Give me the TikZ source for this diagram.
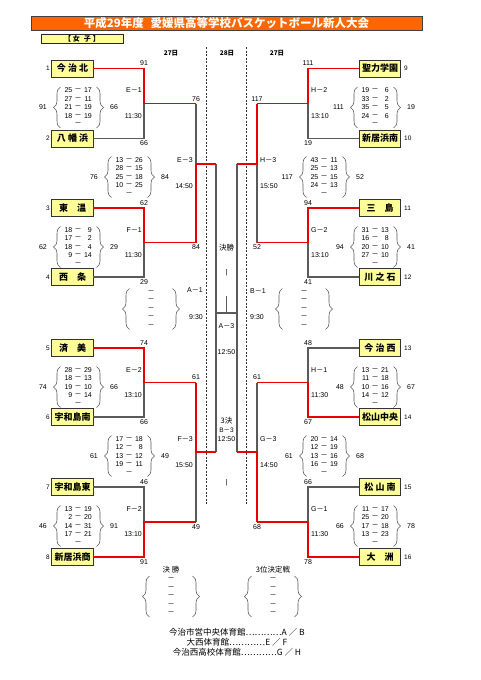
\documentclass[tikz,border=0pt]{standalone}
\usepackage{fontspec}
\setmainfont{Liberation Sans}
\newfontfamily\jp{Noto Sans CJK JP}
\usetikzlibrary{decorations.pathreplacing}
\definecolor{ttl}{RGB}{255,102,0}
\definecolor{ybox}{RGB}{255,255,153}
\definecolor{wline}{RGB}{235,0,0}
\definecolor{lline}{RGB}{90,90,90}
\newcommand\dd{{\jp －}}
\newcommand\scoreblk[6]{%
  \foreach \sa/\sb [count=\si from 0] in {#4}{%
    \node[num,anchor=east] (#1a\si) at ({#2-5.5},{#3+\si*8.5}) {\sa};
    \node[num] (#1d\si) at (#2,{#3+\si*8.5}) {\dd};
    \node[num,anchor=east] (#1b\si) at ({#2+14},{#3+\si*8.5}) {\sb};
  }%
  \node[num] (#1d4) at (#2,{#3+34}) {\dd};
  \draw[brc] ({#2-17.5},{#3+37.5}) -- ({#2-17.5},{#3-3.5});
  \draw[brc] ({#2+18.5},{#3-3.5}) -- ({#2+18.5},{#3+37.5});
  \node[num,anchor=east] (#1L) at ({#2-31},{#3+17}) {#5};
  \node[num,anchor=west] (#1R) at ({#2+32},{#3+17}) {#6};
}
\newcommand\dashblk[3]{%
  \foreach \si in {0,...,4}{\node[num] (#1d\si) at (#2,{#3+\si*8.5}) {\dd};}%
  \draw[brc] ({#2-21.5},{#3+37.5}) -- ({#2-21.5},{#3-3.5});
  \draw[brc] ({#2+21.5},{#3-3.5}) -- ({#2+21.5},{#3+37.5});
}
\begin{document}
\begin{tikzpicture}[x=1pt,y=-1pt,
  num/.style={inner sep=0pt,font=\fontsize{7}{8}\selectfont},
  seednum/.style={inner sep=0pt,font=\fontsize{6.5}{7}\selectfont},
  team/.style={draw=black!80,line width=0.8pt,fill=ybox,minimum width=41.5pt,minimum height=17pt,inner sep=0pt,outer sep=0pt,font=\jp\bfseries\fontsize{9}{9}\selectfont},
  win/.style={draw=wline,line width=1.9pt},
  lose/.style={draw=lline,line width=1.1pt},
  brc/.style={draw=black!65,line width=0.6pt,decorate,decoration={brace,amplitude=7pt}},
  dline/.style={draw=black!80,line width=0.6pt,dash pattern=on 2pt off 1.5pt},
  jtxt/.style={inner sep=0pt,font=\jp\fontsize{7.5}{8}\selectfont},
  foot/.style={inner sep=0pt,font=\jp\fontsize{8.5}{9}\selectfont},
  hdr/.style={inner sep=0pt,font=\jp\bfseries\fontsize{6.5}{7}\selectfont},
]
\useasboundingbox (0,0) rectangle (481,680);
\fill[white] (0,0) rectangle (481,680);

% title and header
\node[draw=black!75,line width=0.8pt,fill=ttl,minimum width=391pt,minimum height=14pt,inner sep=0pt,text=white,font=\jp\bfseries\fontsize{11.5}{12}\selectfont] (title) at (226.5,23) {平成29年度\hspace{0.6em}愛媛県高等学校バスケットボール新人大会};
\node[draw=black!85,line width=0.8pt,fill=ybox,minimum width=82pt,minimum height=9pt,inner sep=0pt,font=\jp\bfseries\fontsize{7}{7}\selectfont] (girls) at (82,38.5) {【\hspace{2pt}女\hspace{4pt}子\hspace{2pt}】};
\node[hdr] (d27a) at (171,53) {27日};
\node[hdr] (d28) at (227,53) {28日};
\node[hdr] (d27b) at (277,53) {27日};

% dashed day separators
\coordinate (dl1t) at (206.5,47); \coordinate (dl1b) at (206.5,504);
\coordinate (dl2t) at (246.5,47); \coordinate (dl2b) at (246.5,504);
\draw[dline] (dl1t) -- (dl1b);
\draw[dline] (dl2t) -- (dl2b);

% teams
\foreach \n/\y/\t in {1/68.5/今 治 北,2/138.5/八 幡 浜,3/208/東　温,4/277/西　条,5/348/済　美,6/417/宇和島南,7/487/宇和島東,8/557/新居浜商}{
  \node[team] (tL\n) at (72.5,\y) {\t};
  \node[seednum,anchor=east] (sL\n) at (50,\y) {\n};
}
\foreach \n/\s/\y/\t in {1/9/68.5/聖力学園,2/10/138.5/新居浜南,3/11/208/三　島,4/12/277/川 之 石,5/13/348/今 治 西,6/14/417/松山中央,7/15/487/松 山 南,8/16/557/大　洲}{
  \node[team] (tR\n) at (380,\y) {\t};
  \node[seednum,anchor=west] (sR\n) at (404,\y) {\s};
}

% junctions
\coordinate (jL1) at (144,103.5); \coordinate (jL2) at (144,242.5);
\coordinate (jL3) at (144,382.5); \coordinate (jL4) at (144,522);
\coordinate (kL1) at (196,103.5); \coordinate (kL2) at (196,242.5);
\coordinate (kL3) at (196,382.5); \coordinate (kL4) at (196,522);
\coordinate (mL1) at (196,164); \coordinate (mL2) at (196,452);
\coordinate (fL1) at (216,164); \coordinate (fL2) at (216,452);
\coordinate (jR1) at (308,103.5); \coordinate (jR2) at (308,242.5);
\coordinate (jR3) at (308,382.5); \coordinate (jR4) at (308,522);
\coordinate (kR1) at (257,103.5); \coordinate (kR2) at (257,242.5);
\coordinate (kR3) at (257,382.5); \coordinate (kR4) at (257,522);
\coordinate (mR1) at (257,164); \coordinate (mR2) at (257,452);
\coordinate (fR1) at (237,164); \coordinate (fR2) at (237,452);
\coordinate (cA) at (216,313); \coordinate (cB) at (237,313);
\coordinate (cT) at (226.5,296); \coordinate (cM) at (226.5,313);

% losing lines
\draw[lose] (tL2.east) -| (jL1);
\draw[lose] (tL4.east) -| (jL2);
\draw[lose] (tL6.east) -| (jL3);
\draw[lose] (tL7.east) -| (jL4);
\draw[lose] (kL1) -- (mL1);
\draw[lose] (kL4) -- (mL2);
\draw[lose] (tR2.west) -| (jR1);
\draw[lose] (tR4.west) -| (jR2);
\draw[lose] (tR5.west) -| (jR3);
\draw[lose] (tR7.west) -| (jR4);
\draw[lose] (kR2) -- (mR1);
\draw[lose] (kR3) -- (mR2);
\draw[lose] (fL1) -- (fL2);
\draw[lose] (fR1) -- (fR2);
\draw[lose] (cA) -- (cB);
\draw[lose] (cT) -- (cM);

% winning lines
\draw[win] (tL1.east) -| (jL1) -- (kL1);
\draw[win] (tL3.east) -| (jL2) -- (kL2);
\draw[win] (tL5.east) -| (jL3) -- (kL3);
\draw[win] (tL8.east) -| (jL4) -- (kL4);
\draw[win] (kL2) -- (mL1) -- (fL1);
\draw[win] (kL3) -- (mL2) -- (fL2);
\draw[win] (tR1.west) -| (jR1) -- (kR1);
\draw[win] (tR3.west) -| (jR2) -- (kR2);
\draw[win] (tR6.west) -| (jR3) -- (kR3);
\draw[win] (tR8.west) -| (jR4) -- (kR4);
\draw[win] (kR1) -- (mR1) -- (fR1);
\draw[win] (kR4) -- (mR2) -- (fR2);

% left labels
\node[num] (E1t) at (144,63.5) {91};
\node[num] (E1u) at (144,143.5) {66};
\node[num,anchor=east] (E1n) at (142,90.5) {E\dd1};
\node[num,anchor=east] (E1h) at (142,116) {11:30};
\node[num] (F1t) at (144,203) {62};
\node[num] (F1u) at (144,282) {29};
\node[num,anchor=east] (F1n) at (142,230) {F\dd1};
\node[num,anchor=east] (F1h) at (142,255.5) {11:30};
\node[num] (E2t) at (144,343) {74};
\node[num] (E2u) at (144,422) {66};
\node[num,anchor=east] (E2n) at (142,370) {E\dd2};
\node[num,anchor=east] (E2h) at (142,395.5) {13:10};
\node[num] (F2t) at (144,482) {46};
\node[num] (F2u) at (144,562) {91};
\node[num,anchor=east] (F2n) at (142,509) {F\dd2};
\node[num,anchor=east] (F2h) at (142,534.5) {13:10};
\node[num] (E3t) at (196,99) {76};
\node[num] (E3u) at (196,247) {84};
\node[num,anchor=east] (E3n) at (193,160) {E\dd3};
\node[num,anchor=east] (E3h) at (193,186) {14:50};
\node[num] (F3t) at (196,377) {61};
\node[num] (F3u) at (196,527) {49};
\node[num,anchor=east] (F3n) at (193,439) {F\dd3};
\node[num,anchor=east] (F3h) at (193,465) {15:50};
\node[num,anchor=east] (A1n) at (203,290) {A\dd1};
\node[num,anchor=east] (A1h) at (203,317) {9:30};

% right labels
\node[num] (H2t) at (308,63.5) {111};
\node[num] (H2u) at (308,143.5) {19};
\node[num,anchor=west] (H2n) at (311,90.5) {H\dd2};
\node[num,anchor=west] (H2h) at (311,116) {13:10};
\node[num] (G2t) at (308,203) {94};
\node[num] (G2u) at (308,282) {41};
\node[num,anchor=west] (G2n) at (311,230) {G\dd2};
\node[num,anchor=west] (G2h) at (311,255.5) {13:10};
\node[num] (H1t) at (308,343) {48};
\node[num] (H1u) at (308,422) {67};
\node[num,anchor=west] (H1n) at (311,370) {H\dd1};
\node[num,anchor=west] (H1h) at (311,395.5) {11:30};
\node[num] (G1t) at (308,482) {66};
\node[num] (G1u) at (308,562) {78};
\node[num,anchor=west] (G1n) at (311,509) {G\dd1};
\node[num,anchor=west] (G1h) at (311,534.5) {11:30};
\node[num] (H3t) at (257,99) {117};
\node[num] (H3u) at (257,247) {52};
\node[num,anchor=west] (H3n) at (260,160) {H\dd3};
\node[num,anchor=west] (H3h) at (260,186) {15:50};
\node[num] (G3t) at (257,377) {61};
\node[num] (G3u) at (257,527) {68};
\node[num,anchor=west] (G3n) at (260,439) {G\dd3};
\node[num,anchor=west] (G3h) at (260,465) {14:50};
\node[num,anchor=west] (B1n) at (250,291) {B\dd1};
\node[num,anchor=west] (B1h) at (250,317) {9:30};

% centre
\node[jtxt] (finlbl) at (226.5,248) {決勝};
\node[num] (bar1) at (226.5,273) {|};
\node[num] (A3n) at (226.5,326) {A\dd3};
\node[num] (A3h) at (226.5,352) {12:50};
\node[jtxt] (thirdlbl) at (226.5,421) {3決};
\node[num,font=\fontsize{6.5}{7}\selectfont] (B3n) at (226.5,430) {B\dd3};
\node[num] (B3h) at (226.5,439) {12:50};
\node[num] (bar2) at (226.5,483) {|};

% scores
\scoreblk{E1}{78}{90.5}{25/17,27/11,21/19,18/19}{91}{66}
\scoreblk{F1}{78}{230}{18/9,17/2,18/4,9/14}{62}{29}
\scoreblk{E2}{78}{370}{28/29,18/13,19/10,9/14}{74}{66}
\scoreblk{F2}{78}{509}{13/19,2/20,14/31,17/21}{46}{91}
\scoreblk{E3}{129}{160}{13/26,28/15,25/18,10/25}{76}{84}
\scoreblk{F3}{129}{439}{17/18,12/8,13/12,19/11}{61}{49}
\scoreblk{H2}{375}{90.5}{19/6,33/2,35/5,24/6}{111}{19}
\scoreblk{G2}{375}{230}{31/13,16/8,20/10,27/10}{94}{41}
\scoreblk{H1}{375}{370}{13/21,11/18,10/16,14/12}{48}{67}
\scoreblk{G1}{375}{509}{11/17,25/20,17/18,13/23}{66}{78}
\scoreblk{H3}{324}{160}{43/11,25/13,25/15,24/13}{117}{52}
\scoreblk{G3}{324}{439}{20/14,12/19,13/16,16/19}{61}{68}
\dashblk{A1}{151}{292}
\dashblk{B1}{304}{292}
\dashblk{FN}{171}{579.5}
\dashblk{TP}{273}{579.5}

% bottom
\node[jtxt] (finbot) at (171,570) {決 勝};
\node[jtxt] (thirdbot) at (273,570) {3位決定戦};
\node[foot] (foot1) at (237,632) {今治市営中央体育館…………A ／ B};
\node[foot] (foot2) at (237,642) {大西体育館…………E ／ F};
\node[foot] (foot3) at (237,652) {今治西高校体育館…………G ／ H};
\end{tikzpicture}
\end{document}
